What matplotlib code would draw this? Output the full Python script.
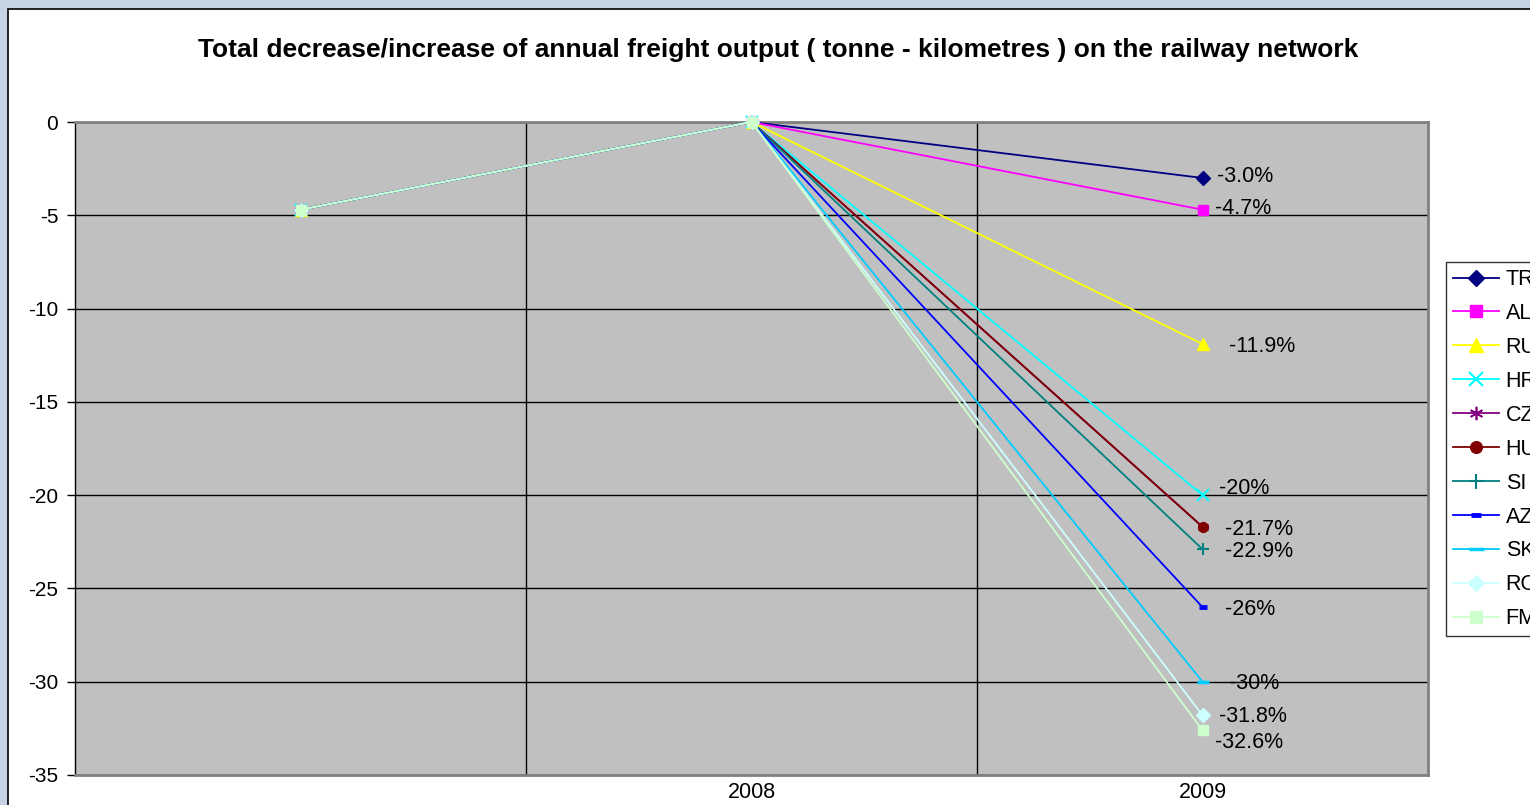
import matplotlib.pyplot as plt
from matplotlib.patches import Rectangle

plt.rcParams['font.family'] = ['Liberation Sans', 'DejaVu Sans']
plt.rcParams['axes.unicode_minus'] = False

# data
years = ["", "2008", "2009"]
series = ["TR", "AL", "RU", "HR", "CZ", "HU", "SI", "AZ", "SK", "RO", "FM"]
start_vals = [-4.7] * 11
vals_2008 = [0] * 11
vals_2009 = [-3.0, -4.7, -11.9, -20, -21.7, -21.7, -22.9, -26, -30, -31.8, -32.6]
labels_2009 = ["-3.0%", "-4.7%", "-11.9%", "-20%", "", "-21.7%", "-22.9%", "-26%", "-30%", "-31.8%", "-32.6%"]

colors = ["#000080", "#FF00FF", "#FFFF00", "#00FFFF", "#800080", "#800000",
          "#008080", "#0000FF", "#00CCFF", "#CCFFFF", "#CCFFCC"]
markers = ["D", "s", "^", "x", (6, 2, 0), "o", "+", "_", "_", "D", "s"]
msizes = [7, 7, 8, 8, 8, 7, 9, 6, 9, 7, 7.5]
mews = [1, 1, 1, 1.5, 1.2, 1, 1.5, 3.5, 2.5, 1, 1]
# label offsets in pixels (dx, dy)
lab_off = [(15, 1), (13, 1), (26, -2), (16, 7), (0, 0), (23, -3), (22, -2),
           (22, -2), (26, -2), (16, -1), (13, -12)]

fig = plt.figure(figsize=(15.3, 8.05), dpi=100)
fig.patch.set_facecolor("#C6D3E5")
fig.patches.append(Rectangle((8 / 1530, -0.01), 1.0, 1 - 9 / 805 + 0.01,
                             transform=fig.transFigure, facecolor="white",
                             edgecolor="black", linewidth=1.2, zorder=-10))

ax = fig.add_axes([75 / 1530, 1 - 775 / 805, (1428 - 75) / 1530, (775 - 122) / 805])
ax.set_facecolor("#C0C0C0")

x = range(len(years))
for i, name in enumerate(series):
    y = [start_vals[i], vals_2008[i], vals_2009[i]]
    ax.plot(x, y, color=colors[i], marker=markers[i], markersize=msizes[i],
            markeredgewidth=mews[i], markeredgecolor=colors[i], linewidth=1.3,
            label=name, zorder=3, clip_on=False)
    if labels_2009[i]:
        ax.annotate(labels_2009[i], (2, vals_2009[i]), xytext=lab_off[i],
                    textcoords="offset pixels", ha="left", va="center",
                    fontsize=15.5, zorder=4)

ax.set_xlim(-0.5, 2.5)
ax.set_ylim(-35, 0)
ax.set_yticks(range(-35, 1, 5))
ax.set_xticks(list(x))
ax.set_xticklabels(years, fontsize=15.5)
ax.set_xticks([0.5, 1.5], minor=True)
ax.tick_params(axis="x", which="both", length=0, pad=5)
ax.tick_params(axis="y", labelsize=15, length=6, width=1, pad=6)
ax.grid(axis="y", color="black", linewidth=1)
ax.grid(axis="x", which="minor", color="black", linewidth=1)
ax.set_axisbelow(True)
for s in ["top", "right", "bottom"]:
    ax.spines[s].set_color("#808080")
    ax.spines[s].set_linewidth(2)
ax.spines["left"].set_color("black")
ax.spines["left"].set_linewidth(1)

fig.text(778 / 1530, 1 - 50 / 805,
         "Total decrease/increase of annual freight output ( tonne - kilometres ) on the railway network",
         ha="center", va="center", fontsize=19, fontweight="bold")

leg = fig.legend(loc="upper left", bbox_to_anchor=(1446 / 1530, 1 - 262 / 805),
                 fontsize=15.5, frameon=True, fancybox=False, borderpad=0.33,
                 labelspacing=0.6, handlelength=2.14, handletextpad=0.3,
                 borderaxespad=0, markerscale=1.2)
leg.get_frame().set_edgecolor("black")
leg.get_frame().set_linewidth(1)

fig.savefig("out.png", dpi=100, facecolor=fig.get_facecolor())
